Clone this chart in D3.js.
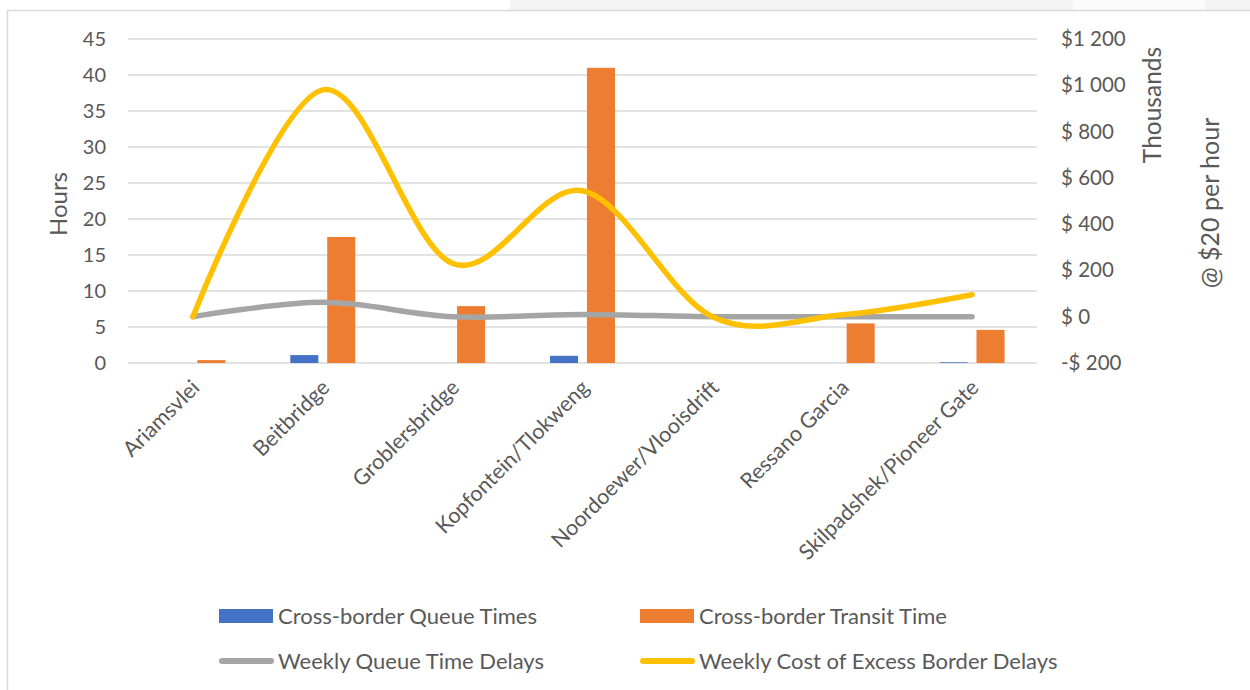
<!DOCTYPE html>
<html>
<head>
<meta charset="utf-8">
<script src="https://cdnjs.cloudflare.com/ajax/libs/d3/7.8.5/d3.min.js"></script>
<style>
  body { margin: 0; background: #fff; }
  text { font-family: Lato, "Open Sans", sans-serif; fill: #595959; }
</style>
</head>
<body>
<div id="chart"></div>
<script>
// border posts (categories)
var categories = [
  "Ariamsvlei",
  "Beitbridge",
  "Groblersbridge",
  "Kopfontein/Tlokweng",
  "Noordoewer/Vlooisdrift",
  "Ressano Garcia",
  "Skilpadshek/Pioneer Gate"
];

// hours (left axis)
var queueTimes = [0, 1.1, 0, 1.0, 0, 0, 0.1];
var transitTimes = [0.4, 17.5, 7.9, 41.0, 0, 5.5, 4.6];

// thousands of $ (right axis)
var weeklyQueueDelays = [0, 62, 0, 10, 0, 0, 0];
var weeklyCost = [0, 980, 230, 544, 0, 8, 95];

var leftTicks = [0, 5, 10, 15, 20, 25, 30, 35, 40, 45];
var rightTicks = [-200, 0, 200, 400, 600, 800, 1000, 1200];
var rightTickLabels = ["-$ 200", "$ 0", "$ 200", "$ 400", "$ 600", "$ 800", "$1 000", "$1 200"];

var barSeries = ["Cross-border Queue Times", "Cross-border Transit Time"];
var lineSeries = ["Weekly Queue Time Delays", "Weekly Cost of Excess Border Delays"];

var colors = {
  "Cross-border Queue Times": "#4472C4",
  "Cross-border Transit Time": "#ED7D31",
  "Weekly Queue Time Delays": "#A5A5A5",
  "Weekly Cost of Excess Border Delays": "#FFC000"
};

var width = 1250,
  height = 690,
  plotLeft = 128,
  plotRight = 1037,
  plotTop = 39,
  plotBottom = 363;

var svg = d3.select("#chart")
  .append("svg")
  .attr("width", width)
  .attr("height", height);

// window chrome at the very top
svg.append("rect")
  .attr("x", 510).attr("y", 0)
  .attr("width", width - 510).attr("height", 10)
  .attr("fill", "#f4f4f4");
svg.append("rect")
  .attr("x", 1073).attr("y", 0)
  .attr("width", 132).attr("height", 10)
  .attr("fill", "#fbfbfb");

// chart area border
svg.append("path")
  .attr("d", "M7.5," + height + "V10.5H" + width)
  .attr("fill", "none")
  .attr("stroke", "#d9d9d9")
  .attr("stroke-width", 1.5);

var x = d3.scaleBand()
  .domain(categories)
  .range([plotLeft, plotRight])
  .paddingInner(0.5)
  .paddingOuter(0.25);

var xInner = d3.scaleBand()
  .domain(barSeries)
  .range([0, x.bandwidth()])
  .paddingInner(0.24);

var yLeft = d3.scaleLinear()
  .domain([0, 45])
  .range([plotBottom, plotTop]);

var yRight = d3.scaleLinear()
  .domain([-200, 1200])
  .range([plotBottom, plotTop]);

// gridlines (primary axis)
svg.append("g")
  .selectAll("line")
  .data(leftTicks)
  .enter()
  .append("line")
  .attr("x1", plotLeft)
  .attr("x2", plotRight)
  .attr("y1", function(d) { return yLeft(d); })
  .attr("y2", function(d) { return yLeft(d); })
  .attr("stroke", "#d9d9d9")
  .attr("stroke-width", 1.5);

// left axis
var leftAxis = svg.append("g")
  .attr("transform", "translate(" + (plotLeft - 22) + ",0)")
  .call(d3.axisLeft(yLeft).tickValues(leftTicks).tickSize(0).tickPadding(0));
leftAxis.select(".domain").remove();
leftAxis.selectAll("text")
  .style("font-size", "20px")
  .attr("fill", "#595959");

// right axis
var rightAxis = svg.append("g")
  .attr("transform", "translate(" + (plotRight + 24) + ",0)")
  .call(d3.axisRight(yRight)
    .tickValues(rightTicks)
    .tickSize(0)
    .tickPadding(0)
    .tickFormat(function(d, i) { return rightTickLabels[i]; }));
rightAxis.select(".domain").remove();
rightAxis.selectAll("text")
  .style("font-size", "20.5px")
  .attr("fill", "#595959");

// axis titles
svg.append("text")
  .attr("transform", "translate(67,204) rotate(-90)")
  .attr("text-anchor", "middle")
  .style("font-size", "24px")
  .text("Hours");

svg.append("text")
  .attr("transform", "translate(1161,105) rotate(-90)")
  .attr("text-anchor", "middle")
  .style("font-size", "24.5px")
  .text("Thousands");

svg.append("text")
  .attr("transform", "translate(1219,203) rotate(-90)")
  .attr("text-anchor", "middle")
  .style("font-size", "25px")
  .text("@ $20 per hour");

// category labels, rotated
svg.append("g")
  .selectAll("text")
  .data(categories)
  .enter()
  .append("text")
  .attr("transform", function(d) {
    return "translate(" + (x(d) + x.bandwidth() / 2 + 8) + ",389) rotate(-45)";
  })
  .attr("text-anchor", "end")
  .style("font-size", "21.5px")
  .text(function(d) { return d; });

// bars
var barData = [];
categories.forEach(function(c, i) {
  barData.push({ cat: c, series: barSeries[0], value: queueTimes[i] });
  barData.push({ cat: c, series: barSeries[1], value: transitTimes[i] });
});

svg.append("g")
  .selectAll("rect")
  .data(barData.filter(function(d) { return d.value > 0; }))
  .enter()
  .append("rect")
  .attr("x", function(d) { return x(d.cat) + xInner(d.series); })
  .attr("width", xInner.bandwidth())
  .attr("y", function(d) { return yLeft(d.value); })
  .attr("height", function(d) { return yLeft(0) - yLeft(d.value); })
  .attr("fill", function(d) { return colors[d.series]; });

// smoothed lines on secondary axis
var line = d3.line()
  .x(function(d) { return x(d.cat) + x.bandwidth() / 2; })
  .y(function(d) { return yRight(d.value); })
  .curve(d3.curveCatmullRom.alpha(0));

var lineData = [
  { series: lineSeries[0], values: weeklyQueueDelays },
  { series: lineSeries[1], values: weeklyCost }
];

svg.append("g")
  .selectAll("path")
  .data(lineData)
  .enter()
  .append("path")
  .attr("d", function(d) {
    return line(d.values.map(function(v, i) { return { cat: categories[i], value: v }; }));
  })
  .attr("fill", "none")
  .attr("stroke", function(d) { return colors[d.series]; })
  .attr("stroke-width", 5.5)
  .attr("stroke-linecap", "round")
  .attr("stroke-linejoin", "round");

// legend
var legendItems = [
  { name: barSeries[0], type: "bar", x: 219, y: 616 },
  { name: barSeries[1], type: "bar", x: 640, y: 616 },
  { name: lineSeries[0], type: "line", x: 219, y: 661 },
  { name: lineSeries[1], type: "line", x: 640, y: 661 }
];

var legend = svg.append("g")
  .selectAll("g")
  .data(legendItems)
  .enter()
  .append("g")
  .attr("transform", function(d) { return "translate(" + d.x + "," + d.y + ")"; });

legend.filter(function(d) { return d.type === "bar"; })
  .append("rect")
  .attr("x", 0)
  .attr("y", -7)
  .attr("width", 54)
  .attr("height", 14)
  .attr("fill", function(d) { return colors[d.name]; });

legend.filter(function(d) { return d.type === "line"; })
  .append("line")
  .attr("x1", 3)
  .attr("x2", 52)
  .attr("stroke", function(d) { return colors[d.name]; })
  .attr("stroke-width", 6)
  .attr("stroke-linecap", "round");

legend.append("text")
  .attr("x", 59)
  .attr("dy", "0.35em")
  .style("font-size", "22px")
  .text(function(d) { return d.name; });
</script>
</body>
</html>
